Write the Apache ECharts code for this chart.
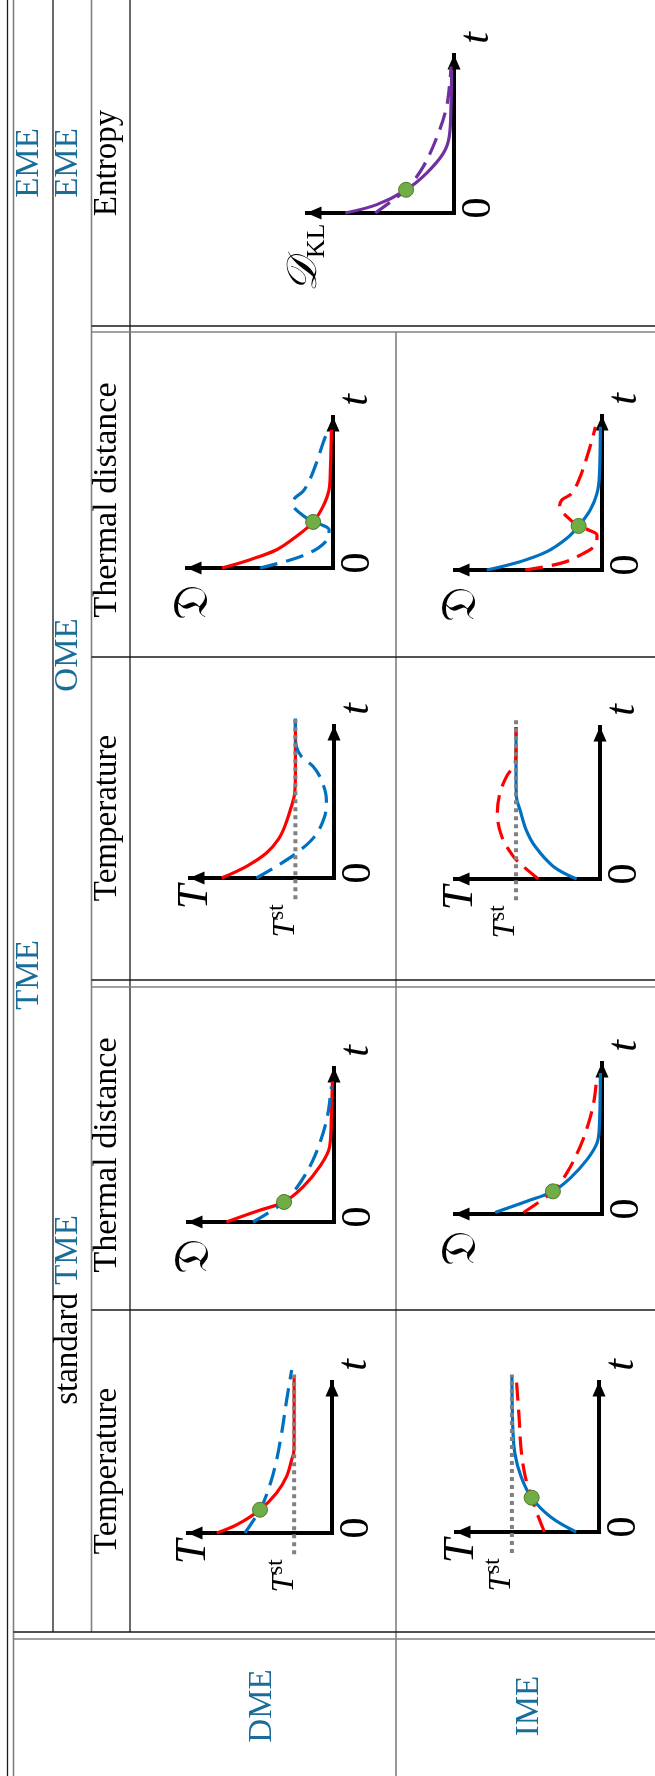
<!DOCTYPE html>
<html>
<head>
<meta charset="utf-8">
<script src="https://cdn.jsdelivr.net/npm/echarts@6/dist/echarts.min.js"></script>
<style>
  html, body { margin: 0; padding: 0; background: #fff; }
  #chart { width: 655px; height: 1776px; }
</style>
</head>
<body>
<div id="chart"></div>
<script>
// ---------- text content ----------
const groupLabels = ['TME', 'EME'];
const subgroupLabels = ['standard', 'TME', 'OME', 'EME'];
const quantityLabels = ['Temperature', 'Thermal distance', 'Temperature', 'Thermal distance', 'Entropy'];
const rowLabels = ['DME', 'IME'];

// ---------- sketch curves: each point is [value, t] on a 0..10 scale ----------
// standard TME, temperature
const stdTempDmeRed  = [[8.0, 0], [6.6, 0.55], [5.0, 1.54], [3.85, 2.65], [3.15, 3.75], [2.8, 4.85], [2.65, 5.4], [2.63, 6.5], [2.63, 10.4]];
const stdTempDmeBlue = [[6.05, 0], [5.0, 1.54], [4.5, 2.65], [3.95, 4.4], [3.5, 6.6], [3.15, 8.8], [2.8, 10.8]];
const stdTempDmeCross = [5.0, 1.54];
const stdTempDmeTst = 2.63;

const stdTempImeBlue = [[1.6, 0], [3.38, 1.0], [4.71, 2.29], [5.44, 3.67], [5.88, 5.22], [6.03, 7.0], [6.09, 10.4]];
const stdTempImeRed  = [[3.82, 0], [4.41, 1.44], [4.71, 2.29], [5.15, 3.67], [5.44, 5.44], [5.59, 7.67], [5.79, 10.3]];
const stdTempImeCross = [4.71, 2.29];
const stdTempImeTst = 6.09;

// standard TME, thermal distance
const stdDistDmeRed  = [[7.37, 0], [5.09, 0.76], [3.42, 1.3], [2.12, 2.28], [0.98, 3.59], [0.3, 4.89], [0.18, 6.85], [0.11, 9.13]];
const stdDistDmeBlue = [[5.55, 0], [3.42, 1.3], [2.35, 2.5], [1.44, 4.02], [0.75, 5.76], [0.41, 7.07], [0.23, 8.37], [0.18, 8.8]];
const stdDistDmeCross = [3.42, 1.3];

const stdDistImeBlue = [[7.27, 0.1], [5.11, 0.84], [3.34, 1.5], [2.16, 2.38], [1.02, 3.6], [0.34, 4.7], [0.18, 5.8], [0.11, 9.34]];
const stdDistImeRed  = [[5.34, 0.1], [3.34, 1.5], [2.39, 2.72], [1.48, 4.48], [0.91, 6.03], [0.57, 7.35], [0.39, 8.68]];
const stdDistImeCross = [3.34, 1.5];

// OME, temperature
const omeTempDmeRed  = [[7.81, 0], [6.07, 0.77], [4.69, 1.64], [3.88, 2.52], [3.42, 3.39], [2.96, 4.7], [2.73, 5.58], [2.68, 6.9], [2.68, 10.4]];
const omeTempDmeBlue = [[5.38, 0], [4.0, 0.77], [2.61, 1.64], [1.34, 2.74], [0.65, 4.05], [0.53, 5.14], [0.88, 6.46], [1.45, 7.33], [2.26, 7.99], [2.61, 8.64], [2.68, 9.5], [2.68, 10.5]];
const omeTempDmeTst = 2.68;

const omeTempImeBlue = [[1.61, 0], [3.22, 0.83], [4.48, 2.15], [5.1, 3.25], [5.52, 4.56], [5.75, 5.3], [5.79, 6.5], [5.79, 10.0]];
const omeTempImeRed  = [[4.25, 0], [5.29, 0.83], [5.98, 1.49], [6.78, 2.81], [7.08, 4.34], [6.9, 5.66], [6.44, 6.75], [5.86, 7.63], [5.79, 8.5], [5.79, 10.0]];
const omeTempImeTst = 5.79;

// OME, thermal distance
const omeDistDmeRed  = [[7.61, 0], [5.68, 0.55], [3.86, 1.21], [2.5, 2.1], [1.36, 3.05], [0.68, 4.08], [0.27, 5.19], [0.18, 6.51], [0.11, 9.16]];
const omeDistDmeBlue = [[5.0, 0], [2.5, 0.66], [1.02, 1.32], [0.34, 1.99], [0.27, 2.54], [0.8, 2.87], [1.36, 3.05], [2.27, 3.64], [2.73, 4.19], [2.61, 4.64], [2.05, 5.08], [1.59, 5.85], [1.14, 6.95], [0.68, 8.28], [0.34, 9.16]];
const omeDistDmeCross = [1.36, 3.05];

const omeDistImeBlue = [[7.84, 0], [5.57, 0.54], [3.75, 1.19], [2.39, 2.06], [1.59, 2.86], [0.8, 3.9], [0.34, 4.98], [0.18, 6.06], [0.11, 9.3]];
const omeDistImeRed  = [[5.23, 0], [2.84, 0.43], [1.25, 1.08], [0.39, 1.73], [0.34, 2.27], [0.91, 2.6], [1.59, 2.86], [2.5, 3.57], [2.89, 4.11], [2.73, 4.55], [2.05, 4.98], [1.48, 6.06], [1.02, 7.36], [0.68, 8.44], [0.45, 9.3]];
const omeDistImeCross = [1.59, 2.86];

// EME, entropy (KL divergence)
const emeEntSolid  = [[7.4, 0], [5.25, 0.53], [3.26, 1.47], [1.86, 2.53], [0.72, 3.79], [0.32, 4.84], [0.2, 6.95], [0.16, 9.05]];
const emeEntDashed = [[5.36, 0], [4.12, 0.84], [3.26, 1.47], [2.08, 2.95], [1.06, 5.05], [0.5, 6.74], [0.27, 8.42], [0.2, 9.26]];
const emeEntCross = [3.26, 1.47];

// ---------- styling ----------
const SERIF = '"Liberation Serif", "DejaVu Serif", serif';
const MATH = '"DejaVu Serif", "DejaVu Sans", "Liberation Serif", serif';
const HEAD_BLUE = '#1a6d98';
const RED = '#ff0000', BLUE = '#0070c0', PURPLE = '#7030a0';
const GREEN = '#70ad47', GREEN_EDGE = '#4b7a2e';
const RULE_DARK = '#1a1a1a', RULE_GREY = '#808080';

// panel frames: [arrow tip x of value axis, arrow tip y of time axis, origin x, origin y]
const panels = [
  { frame: [188, 1382, 332, 1533], axis: 'T', tst: stdTempDmeTst,
    curves: [[stdTempDmeRed, RED, false], [stdTempDmeBlue, BLUE, true]], cross: stdTempDmeCross },
  { frame: [456, 1382, 599, 1532], axis: 'T', tst: stdTempImeTst,
    curves: [[stdTempImeBlue, BLUE, false], [stdTempImeRed, RED, true]], cross: stdTempImeCross },
  { frame: [188, 1068, 334, 1222], axis: 'frak',
    curves: [[stdDistDmeRed, RED, false], [stdDistDmeBlue, BLUE, true]], cross: stdDistDmeCross },
  { frame: [455, 1063, 602, 1214], axis: 'frak',
    curves: [[stdDistImeBlue, BLUE, false], [stdDistImeRed, RED, true]], cross: stdDistImeCross },
  { frame: [190, 726, 334, 878], axis: 'T', tst: omeTempDmeTst,
    curves: [[omeTempDmeRed, RED, false], [omeTempDmeBlue, BLUE, true]] },
  { frame: [455, 727, 600, 879], axis: 'T', tst: omeTempImeTst,
    curves: [[omeTempImeBlue, BLUE, false], [omeTempImeRed, RED, true]] },
  { frame: [187, 417, 333, 568], axis: 'frak',
    curves: [[omeDistDmeRed, RED, false], [omeDistDmeBlue, BLUE, true]], cross: omeDistDmeCross },
  { frame: [455, 416, 602, 570], axis: 'frak',
    curves: [[omeDistImeBlue, BLUE, false], [omeDistImeRed, RED, true]], cross: omeDistImeCross },
  { frame: [307, 55, 454, 213], axis: 'kl',
    curves: [[emeEntSolid, PURPLE, false], [emeEntDashed, PURPLE, true]], cross: emeEntCross }
];

const grids = [], xAxes = [], yAxes = [], series = [], graphics = [];

function arrowAxis(symbol, offset, extra) {
  return Object.assign({
    type: 'value', min: 0, max: 10, interval: 10,
    axisLine: {
      show: true, onZero: false,
      symbol: symbol, symbolSize: [13, 15], symbolOffset: offset,
      lineStyle: { color: '#000', width: 4, cap: 'square' }
    },
    axisTick: { show: false }, axisLabel: { show: false }, splitLine: { show: false }
  }, extra);
}

function vText(x, y, text, style) {
  return {
    type: 'text', x: x, y: y, rotation: Math.PI / 2, silent: true,
    style: Object.assign({ text: text, fontFamily: SERIF, fontSize: 33, fill: '#000',
      align: 'center', verticalAlign: 'middle' }, style || {})
  };
}

panels.forEach(function (p, i) {
  const tx = p.frame[0], ty = p.frame[1], ox = p.frame[2], oy = p.frame[3];
  grids.push({ left: tx, top: ty, width: ox - tx, height: oy - ty });
  // value axis grows leftwards, so its arrow sits at the left (pixel start) end
  xAxes.push(arrowAxis(['triangle', 'none'], [7, 0], { gridIndex: i, inverse: true, position: 'bottom' }));
  yAxes.push(arrowAxis(['none', 'triangle'], [0, -7], { gridIndex: i, position: 'right' }));

  p.curves.forEach(function (c) {
    series.push({
      type: 'line', xAxisIndex: i, yAxisIndex: i, data: c[0], smooth: 0.35,
      showSymbol: false, clip: false, silent: true,
      lineStyle: { color: c[1], width: 3.2, type: c[2] ? [18, 9] : 'solid' }
    });
  });
  if (p.tst != null) {
    series.push({
      type: 'line', xAxisIndex: i, yAxisIndex: i, data: [[p.tst, -1.4], [p.tst, 10.5]],
      showSymbol: false, clip: false, silent: true,
      lineStyle: { color: '#808080', width: 4, type: [4, 4] }
    });
  }
  if (p.cross) {
    series.push({
      type: 'scatter', xAxisIndex: i, yAxisIndex: i, data: [p.cross], symbolSize: 15, silent: true,
      itemStyle: { color: GREEN, opacity: 1, borderColor: GREEN_EDGE, borderWidth: 1 }, z: 4
    });
  }

  // axis annotations
  graphics.push(vText(ox + 25, oy - 5, '0', { fontSize: 42 }));
  graphics.push(vText(ox + 23, ty - 17, 't', { fontSize: 42, fontStyle: 'italic' }));
  if (p.axis === 'T') {
    graphics.push(vText(tx + 5, oy + 19, 'T', { fontSize: 44, fontStyle: 'italic' }));
    const tstX = tx + (ox - tx) * (1 - p.tst / 10);
    graphics.push(vText(tstX - 12, oy + 43, '{a|T}{b|st}', {
      rich: {
        a: { fontFamily: SERIF, fontSize: 32, fontStyle: 'italic', verticalAlign: 'bottom', lineHeight: 36 },
        b: { fontFamily: SERIF, fontSize: 23, verticalAlign: 'top', lineHeight: 36 }
      }
    }));
  } else if (p.axis === 'frak') {
    graphics.push(vText(tx + 8, oy + 34, '\u{1D507}', { fontFamily: MATH, fontSize: 48 }));
  } else {
    graphics.push(vText(tx + 0, oy + 45, '{a|\u{1D49F}}{b|KL}', {
      rich: {
        a: { fontFamily: MATH, fontSize: 42, fontStyle: 'italic', verticalAlign: 'top', lineHeight: 46 },
        b: { fontFamily: SERIF, fontSize: 26, verticalAlign: 'bottom', lineHeight: 46 }
      }
    }));
  }
});

// ---------- table rules ----------
function hRule(y, x1, x2, color, w) {
  return { type: 'line', silent: true, shape: { x1: x1, y1: y, x2: x2, y2: y },
    style: { stroke: color, lineWidth: w } };
}
function vRule(x, y1, y2, color, w) {
  return { type: 'line', silent: true, shape: { x1: x, y1: y1, x2: x, y2: y2 },
    style: { stroke: color, lineWidth: w } };
}
graphics.push(
  vRule(7.5, 0, 1776, RULE_DARK, 1.3),
  vRule(13.5, 0, 1776, RULE_GREY, 1.6),
  vRule(53, 0, 1632, RULE_DARK, 1.3),
  vRule(91.5, 0, 1632, RULE_GREY, 1.6),
  vRule(130, 0, 1632, RULE_DARK, 1.3),
  vRule(396, 332, 1776, RULE_GREY, 1.6),
  hRule(1632, 13.5, 655, RULE_DARK, 1.3),
  hRule(1639, 13.5, 655, RULE_GREY, 1.6),
  hRule(1310, 91.5, 655, RULE_DARK, 1.3),
  hRule(980, 91.5, 655, RULE_DARK, 1.3),
  hRule(987, 91.5, 655, RULE_GREY, 1.6),
  hRule(657, 91.5, 655, RULE_DARK, 1.3),
  hRule(326, 91.5, 655, RULE_DARK, 1.3),
  hRule(332, 91.5, 655, RULE_GREY, 1.6)
);

// ---------- headers ----------
graphics.push(
  vText(29, 975, groupLabels[0], { fill: HEAD_BLUE }),
  vText(29, 163, groupLabels[1], { fill: HEAD_BLUE }),
  vText(68, 1310, '{k|' + subgroupLabels[0] + '} {b|' + subgroupLabels[1] + '}', {
    rich: { k: { fontFamily: SERIF, fontSize: 33, fill: '#000' }, b: { fontFamily: SERIF, fontSize: 33, fill: HEAD_BLUE } }
  }),
  vText(68, 655, subgroupLabels[2], { fill: HEAD_BLUE }),
  vText(68, 163, subgroupLabels[3], { fill: HEAD_BLUE }),
  vText(107, 1471, quantityLabels[0]),
  vText(107, 1155, quantityLabels[1], { fontSize: 34 }),
  vText(107, 818, quantityLabels[2]),
  vText(107, 500, quantityLabels[3], { fontSize: 34 }),
  vText(107, 163, quantityLabels[4]),
  vText(262, 1706, rowLabels[0], { fill: HEAD_BLUE }),
  vText(529, 1706, rowLabels[1], { fill: HEAD_BLUE })
);

const chart = echarts.init(document.getElementById('chart'), null, { renderer: 'canvas' });
chart.setOption({
  animation: false,
  backgroundColor: '#fff',
  grid: grids,
  xAxis: xAxes,
  yAxis: yAxes,
  series: series,
  graphic: { elements: graphics }
});
</script>
</body>
</html>
